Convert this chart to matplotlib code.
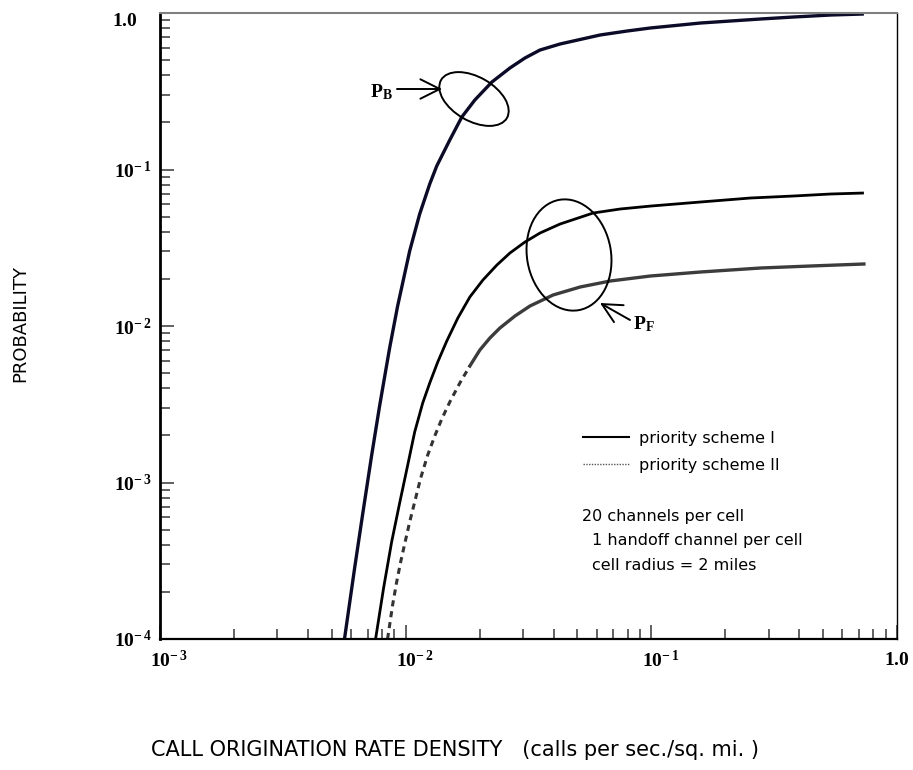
import numpy as np
import matplotlib.pyplot as plt
from matplotlib.patches import Ellipse
from matplotlib.lines import Line2D
from matplotlib.ticker import LogLocator, NullFormatter
from matplotlib.transforms import ScaledTranslation

# ---------------- DATA ----------------
# call origination rate density (calls per sec./sq. mi.) vs probability
# P_B (same for both priority schemes)
PB_X = [0.005636, 0.006190, 0.006675, 0.007263, 0.007832, 0.008604, 0.009275, 0.010382,
        0.011404, 0.012531, 0.013380, 0.015121, 0.016928, 0.019124, 0.022439, 0.026574,
        0.030592, 0.035221, 0.042522, 0.061898, 0.079799, 0.099060, 0.158489, 0.27860,
        0.37979, 0.53778, 0.73318]
PB_Y = [1.0e-4, 2.802e-4, 6.199e-4, 1.477e-3, 3.082e-3, 7.234e-3, 0.013422, 0.030138,
        0.051962, 0.080777, 0.10529, 0.15436, 0.21652, 0.27804, 0.36224, 0.44528,
        0.51582, 0.58007, 0.63387, 0.72363, 0.76736, 0.80205, 0.86298, 0.91567,
        0.94279, 0.97095, 0.98537]

# P_F, priority scheme I
PF1_X = [0.007543, 0.008131, 0.008767, 0.009452, 0.010095, 0.010881, 0.011733, 0.012531,
         0.013507, 0.014702, 0.016306, 0.018249, 0.020625, 0.023520, 0.026574, 0.030592,
         0.035221, 0.042522, 0.057994, 0.074697, 0.1, 0.158489, 0.25353, 0.37979,
         0.53778, 0.73318]
PF1_Y = [1.0e-4, 2.118e-4, 4.167e-4, 7.396e-4, 1.202e-3, 2.102e-3, 3.221e-3, 4.323e-3,
         5.888e-3, 8.021e-3, 0.011245, 0.015320, 0.019670, 0.024538, 0.029271, 0.034411,
         0.039272, 0.044846, 0.052723, 0.055925, 0.058453, 0.061985, 0.065748, 0.067714,
         0.069739, 0.070758]

# P_F, priority scheme II
PF2_X = [0.008440, 0.008848, 0.009190, 0.009541, 0.009906, 0.010382, 0.010881, 0.011512,
         0.012297, 0.013133, 0.014025, 0.015121, 0.016616, 0.018249, 0.020045, 0.022026,
         0.024192, 0.027856, 0.032063, 0.039811, 0.051317, 0.068026, 0.099060, 0.158489,
         0.27860, 0.44566, 0.73318]
PF2_Y = [1.0e-4, 1.649e-4, 2.313e-4, 3.105e-4, 4.046e-4, 5.593e-4, 7.506e-4, 1.069e-3,
         1.499e-3, 1.982e-3, 2.545e-3, 3.268e-3, 4.323e-3, 5.553e-3, 7.024e-3, 8.384e-3,
         9.710e-3, 0.011584, 0.013422, 0.015777, 0.017750, 0.019387, 0.020865, 0.022131,
         0.023475, 0.024177, 0.024896]

X_TICKS = [1e-3, 1e-2, 1e-1, 1.0]
X_TICK_LABELS = [r'$\mathbf{10^{-\,3}}$', r'$\mathbf{10^{-\,2}}$', r'$\mathbf{10^{-\,1}}$', r'$\mathbf{1.0}$']
Y_TICKS = [1e-4, 1e-3, 1e-2, 1e-1, 1.0]
Y_TICK_LABELS = [r'$\mathbf{10^{-\,4}}$', r'$\mathbf{10^{-\,3}}$', r'$\mathbf{10^{-\,2}}$',
                 r'$\mathbf{10^{-\,1}}$', r'$\mathbf{1.0}$']

LEGEND_LABELS = ['priority scheme I', 'priority scheme II']
NOTE_LINES = ['20 channels per cell', '1 handoff channel per cell', 'cell radius = 2 miles']
# --------------------------------------

plt.rcParams['font.family'] = ['DejaVu Sans']
plt.rcParams['mathtext.fontset'] = 'custom'
plt.rcParams['mathtext.rm'] = 'Liberation Serif'
plt.rcParams['mathtext.bf'] = 'Liberation Serif:bold'
plt.rcParams['mathtext.it'] = 'Liberation Serif:italic'

W, H = 913, 770
fig = plt.figure(figsize=(W / 100, H / 100), dpi=100)
ax = fig.add_axes([160 / W, 1 - 639 / H, (897 - 160) / W, (639 - 13) / H])


def px(x, y):
    # image pixel (from top-left) -> inches for dpi_scale_trans
    return (x / 100, (H - y) / 100)


ax.set_xscale('log')
ax.set_yscale('log')
ax.set_xlim(1e-3, 1.0)
ax.set_ylim(1e-4, 1.0)

# curves
ax.plot(PB_X, PB_Y, color='#0b0b28', lw=2.4, solid_capstyle='butt')
ax.plot(PF1_X, PF1_Y, color='black', lw=2.0, solid_capstyle='butt')

pf2_x = np.array(PF2_X)
pf2_y = np.array(PF2_Y)
low = pf2_y <= 5.6e-3
high = pf2_y >= 5.5e-3
ax.plot(pf2_x[low], pf2_y[low], color='#333333', lw=2.2, linestyle=(0, (2.0, 1.6)))
ax.plot(pf2_x[high], pf2_y[high], color='#3c3c3c', lw=2.4)

# axes styling
ax.spines['top'].set_color('#808080')
ax.spines['top'].set_linewidth(1.5)
ax.spines['left'].set_linewidth(2.0)
ax.spines['bottom'].set_linewidth(1.6)
ax.spines['right'].set_linewidth(1.0)

ax.tick_params(which='both', direction='in', top=False, right=False, color='#555555', width=1.3)
ax.tick_params(which='major', length=10)
ax.tick_params(which='minor', length=7)
ax.tick_params(axis='x', which='major', pad=8)
ax.tick_params(axis='y', which='major', pad=6)

ax.set_xticks(X_TICKS)
ax.set_xticklabels(X_TICK_LABELS, fontsize=14)
ax.set_yticks(Y_TICKS)
ax.set_yticklabels(Y_TICK_LABELS, fontsize=14)
ax.xaxis.set_minor_locator(LogLocator(base=10, subs=np.arange(2, 10)))
ax.yaxis.set_minor_locator(LogLocator(base=10, subs=np.arange(2, 10)))
ax.xaxis.set_minor_formatter(NullFormatter())
ax.yaxis.set_minor_formatter(NullFormatter())

# shift exponent labels so the "10" sits on the tick
shift = ScaledTranslation(9 / 100, 0, fig.dpi_scale_trans)
for lab in ax.get_xticklabels()[:-1]:
    lab.set_transform(lab.get_transform() + shift)
# top "1.0" sits a little left and below its tick
top_lab = ax.get_yticklabels()[-1]
top_lab.set_transform(top_lab.get_transform() + ScaledTranslation(-14 / 100, -5 / 100, fig.dpi_scale_trans))

# axis titles
fig.text(20 / W, 1 - 323 / H, 'PROBABILITY', rotation=90, ha='center', va='center', fontsize=13)
fig.text(455 / W, 1 - 750 / H, 'CALL ORIGINATION RATE DENSITY   (calls per sec./sq. mi. )',
         ha='center', va='center', fontsize=15)

# P_B annotation
fig.add_artist(Ellipse(px(474, 99), 76 / 100, 44 / 100, angle=-30, fill=False,
                       lw=1.4, color='black', transform=fig.dpi_scale_trans))
ax.annotate('', xy=px(442, 89), xytext=px(397, 89), xycoords=fig.dpi_scale_trans,
            textcoords=fig.dpi_scale_trans,
            arrowprops=dict(arrowstyle='->,head_length=14,head_width=7', mutation_scale=1,
                            lw=1.4, color='black', shrinkA=0, shrinkB=0))
fig.text(*px(393, 92), r'$\mathbf{P_{B}}$', transform=fig.dpi_scale_trans,
         ha='right', va='center', fontsize=14)

# P_F annotation
fig.add_artist(Ellipse(px(569, 255), 84 / 100, 112 / 100, angle=10, fill=False,
                       lw=1.4, color='black', transform=fig.dpi_scale_trans))
ax.annotate('', xy=px(600, 303), xytext=px(630, 320), xycoords=fig.dpi_scale_trans,
            textcoords=fig.dpi_scale_trans,
            arrowprops=dict(arrowstyle='->,head_length=14,head_width=7', mutation_scale=1,
                            lw=1.4, color='black', shrinkA=0, shrinkB=0))
fig.text(*px(633, 324), r'$\mathbf{P_{F}}$', transform=fig.dpi_scale_trans,
         ha='left', va='center', fontsize=14)

# legend
handles = [Line2D([], [], color='black', lw=1.5),
           Line2D([], [], color='#555555', lw=1.0, linestyle=(0, (1, 1)))]
fig.legend(handles, LEGEND_LABELS, loc='upper left', bbox_to_anchor=(583 / W, 1 - 431 / H),
           frameon=False, fontsize=11.5, handlelength=2.9, handletextpad=0.6,
           labelspacing=0.75, borderpad=0, borderaxespad=0)

fig.text(*px(582, 517), NOTE_LINES[0], transform=fig.dpi_scale_trans, va='center', fontsize=11.5)
fig.text(*px(592, 541), NOTE_LINES[1], transform=fig.dpi_scale_trans, va='center', fontsize=11.5)
fig.text(*px(592, 565), NOTE_LINES[2], transform=fig.dpi_scale_trans, va='center', fontsize=11.5)

fig.savefig('out.png', dpi=100)
